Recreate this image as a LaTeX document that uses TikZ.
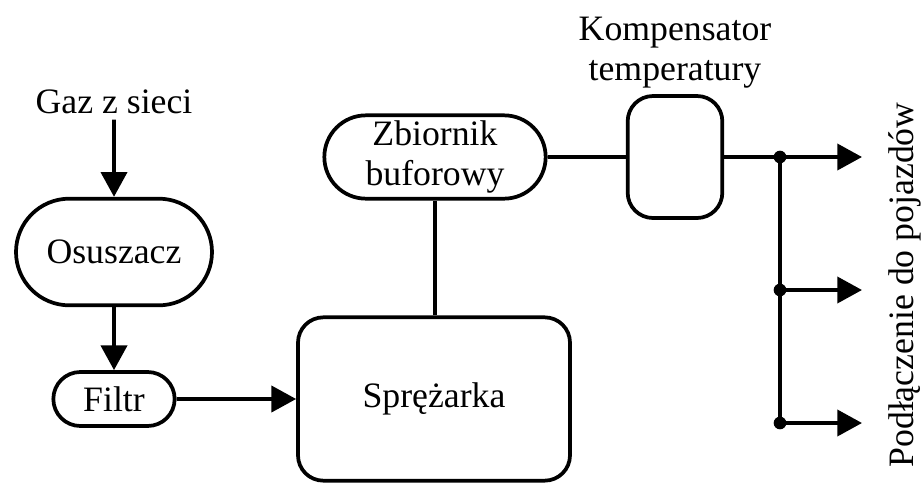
\documentclass[tikz,border=0pt]{standalone}
\usepackage{fontspec}
\setmainfont{Liberation Serif}
\usetikzlibrary{arrows.meta, positioning, shapes.misc}

\begin{document}
\begin{tikzpicture}[x=0.75pt, y=-0.75pt, line width=2.8pt,
            unit text/.style={align=center, font=\fontsize{26.8pt}{30pt}\selectfont},
            unit/.style={unit text, draw, inner sep=0pt},
            unit round/.style={unit, rounded rectangle},
            unit box/.style={unit, rectangle, rounded corners=19pt},
            flow/.style={-{Triangle[length=18.5pt, width=19.5pt]}},
            junction/.style={circle, fill, inner sep=0pt, minimum size=9.5pt}]

            \useasboundingbox (0,0) rectangle (922,483);

            % Gas treatment line
            \node[unit text, anchor=base] (gaz) at (114,113) {Gaz z sieci};
            \node[unit round, minimum width=147pt, minimum height=80pt] (osuszacz) at (114,252) {Osuszacz};
            \node[unit round, minimum width=91pt, minimum height=40.5pt] (filtr) at (114,399) {Filtr};
            \node[unit box, minimum width=204pt, minimum height=122.5pt] (sprezarka) at (434,399) {Sprężarka};
            \node[unit round, minimum width=166pt, minimum height=62.5pt] (zbiornik) at (435,157) {Zbiornik\\buforowy};
            \node[unit box, minimum width=71pt, minimum height=91.5pt] (kompensator) at (675,157) {};
            \node[unit text, above=0pt of kompensator] (kompensator label) {Kompensator\\temperatury};

            \draw[flow] (gaz) -- (osuszacz);
            \draw[flow] (osuszacz) -- (filtr);
            \draw[flow] (filtr) -- (sprezarka);
            \draw (sprezarka.north -| zbiornik.south) -- (zbiornik.south);
            \draw (zbiornik) -- (kompensator);

            % Vehicle connections
            \foreach \y [count=\i] in {157,290,423} {
                \node[junction] (j-\i) at (780,\y) {};
                \coordinate (out-\i) at (862,\y);
            }
            \draw[flow] (kompensator) -- (out-1);
            \draw (j-1.center) -- (j-3.center);
            \foreach \i in {2,3} {
                \draw[flow] (j-\i.center) -- (out-\i);
            }
            \node[unit text, rotate=90] (pojazdy) at (905,285) {Podłączenie do pojazdów};
        \end{tikzpicture}
\end{document}
